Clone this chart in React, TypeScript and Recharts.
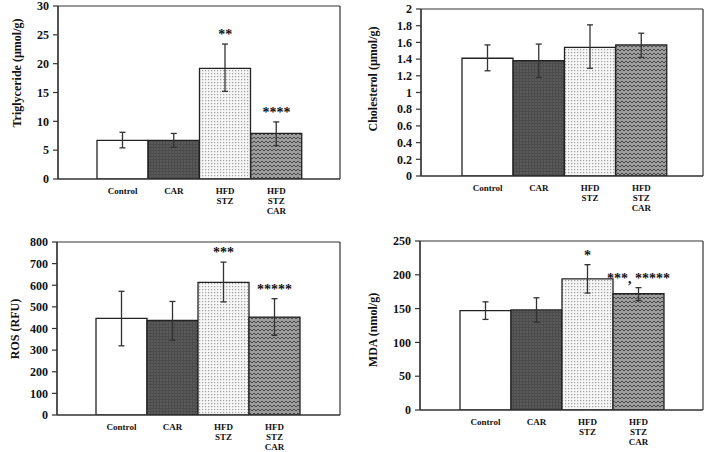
import React from 'react';
import {
  ComposedChart,
  Bar,
  Cell,
  ErrorBar,
  XAxis,
  YAxis,
  CartesianGrid,
  Line,
  LabelList,
  Label,
} from 'recharts';

const categories = ['Control', 'CAR', 'HFD\nSTZ', 'HFD\nSTZ\nCAR'];

const triglycerideMean = [6.7, 6.7, 19.2, 7.9];
const triglycerideLow = [5.4, 5.5, 15.2, 5.8];
const triglycerideHigh = [8.1, 7.9, 23.4, 9.9];
const triglycerideStars = ['', '', '**', '****'];
const triglycerideTicks = [0, 5, 10, 15, 20, 25, 30];

const cholesterolMean = [1.41, 1.38, 1.54, 1.57];
const cholesterolLow = [1.26, 1.18, 1.29, 1.42];
const cholesterolHigh = [1.57, 1.58, 1.81, 1.71];
const cholesterolStars = ['', '', '', ''];
const cholesterolTicks = [0, 0.2, 0.4, 0.6, 0.8, 1, 1.2, 1.4, 1.6, 1.8, 2];

const rosMean = [447, 437, 613, 453];
const rosLow = [320, 346, 523, 368];
const rosHigh = [572, 525, 707, 538];
const rosStars = ['', '', '***', '*****'];
const rosTicks = [0, 100, 200, 300, 400, 500, 600, 700, 800];

const mdaMean = [147, 148, 194, 172];
const mdaLow = [134, 130, 173, 162];
const mdaHigh = [160, 166, 215, 181];
const mdaStars = ['', '', '*', '***, *****'];
const mdaTicks = [0, 50, 100, 150, 200, 250];

const barFills = ['#ffffff', 'url(#patCar)', 'url(#patDots)', 'url(#patZig)'];

const FONT = '"Liberation Serif", "Times New Roman", serif';

function buildData(mean: number[], low: number[], high: number[], stars: string[]) {
  return categories.map((c, i) => ({
    name: c,
    value: mean[i],
    err: [mean[i] - low[i], high[i] - mean[i]],
    top: high[i],
    stars: stars[i],
  }));
}

const XTick = (props: any) => {
  const { x, y, payload } = props;
  const lines = String(payload.value).split('\n');
  return (
    <text
      x={x}
      y={y + 15}
      textAnchor="middle"
      fontFamily={FONT}
      fontWeight="bold"
      fontSize={9}
      fill="#111"
    >
      {lines.map((l, i) => (
        <tspan key={i} x={x} dy={i === 0 ? 0 : 10}>
          {l}
        </tspan>
      ))}
    </text>
  );
};

const StarLabel = (props: any) => {
  const { x, y, value } = props;
  if (!value) return null;
  return (
    <text
      x={x}
      y={y - 5}
      textAnchor="middle"
      fontFamily={FONT}
      fontWeight="bold"
      fontSize={14}
      fill="#111"
    >
      {value}
    </text>
  );
};

type PanelProps = {
  left: number;
  top: number;
  width: number;
  height: number;
  marginTop: number;
  marginRight: number;
  yWidth: number;
  xHeight: number;
  padL: number;
  padR: number;
  labelX: number;
  labelY: number;
  yLabel: string;
  data: any[];
  ticks: number[];
};

function Panel(p: PanelProps) {
  const domainMax = p.ticks[p.ticks.length - 1];
  return (
    <div style={{ position: 'absolute', left: p.left, top: p.top, width: p.width, height: p.height }}>
      <ComposedChart
        width={p.width}
        height={p.height}
        data={p.data}
        margin={{ top: p.marginTop, right: p.marginRight, left: 0, bottom: 0 }}
        barCategoryGap={0}
        barGap={0}
      >
        <CartesianGrid
          stroke="#333"
          strokeWidth={1.2}
          horizontalCoordinatesGenerator={({ offset }: any) => [offset.top, offset.top + offset.height]}
          verticalCoordinatesGenerator={({ offset }: any) => [offset.left, offset.left + offset.width]}
        />
        <XAxis
          dataKey="name"
          interval={0}
          height={p.xHeight}
          padding={{ left: p.padL, right: p.padR }}
          tickLine={false}
          tickSize={0}
          tickMargin={0}
          axisLine={{ stroke: '#333', strokeWidth: 1.2 }}
          tick={<XTick />}
        />
        <YAxis
          type="number"
          domain={[0, domainMax]}
          ticks={p.ticks}
          interval={0}
          allowDataOverflow
          width={p.yWidth}
          tickSize={5}
          tickMargin={4}
          axisLine={{ stroke: '#333', strokeWidth: 1.2 }}
          tickLine={{ stroke: '#333', strokeWidth: 1.2 }}
          tick={{ fontFamily: FONT, fontWeight: 'bold', fontSize: 12, fill: '#111' }}
        >
          <Label
            content={() => (
              <text
                x={p.labelX}
                y={p.labelY}
                transform={`rotate(-90 ${p.labelX} ${p.labelY})`}
                textAnchor="middle"
                dominantBaseline="central"
                fontFamily={FONT}
                fontWeight="bold"
                fontSize={12}
                fill="#111"
              >
                {p.yLabel}
              </text>
            )}
          />
        </YAxis>
        <Bar dataKey="value" isAnimationActive={false} stroke="#222" strokeWidth={1.3}>
          {p.data.map((_, i) => (
            <Cell key={i} fill={barFills[i]} stroke="#222" strokeWidth={1.3} />
          ))}
          <ErrorBar dataKey="err" direction="y" width={3} stroke="#333" strokeWidth={1.3} />
        </Bar>
        <Line
          dataKey="top"
          stroke="none"
          dot={false}
          activeDot={false}
          isAnimationActive={false}
          legendType="none"
        >
          <LabelList dataKey="stars" content={<StarLabel />} />
        </Line>
      </ComposedChart>
    </div>
  );
}

export default function App() {
  return (
    <div style={{ position: 'absolute', left: 0, top: 0, width: 709, height: 452, background: '#fff', overflow: 'hidden' }}>
      <svg width={0} height={0} style={{ position: 'absolute' }}>
        <defs>
          <pattern id="patCar" width={3} height={3} patternUnits="userSpaceOnUse">
            <rect width={3} height={3} fill="#5a5a5a" />
            <path d="M0 0.5 H3 M0.5 0 V3" stroke="#4c4c4c" strokeWidth={1} />
          </pattern>
          <pattern id="patDots" width={3} height={3} patternUnits="userSpaceOnUse">
            <rect width={3} height={3} fill="#f6f6f6" />
            <rect x={1} y={1} width={1.2} height={1.2} fill="#a0a0a0" />
          </pattern>
          <pattern id="patZig" width={4} height={4} patternUnits="userSpaceOnUse">
            <rect width={4} height={4} fill="#9c9c9c" />
            <path d="M0 3 L2 1 L4 3" stroke="#4a4a4a" strokeWidth={1} fill="none" />
          </pattern>
        </defs>
      </svg>
      <Panel
        left={0}
        top={0}
        width={360}
        height={228}
        marginTop={6}
        marginRight={20}
        yWidth={58}
        xHeight={49}
        padL={39}
        padR={38}
        labelX={17}
        labelY={73}
        yLabel="Triglyceride (µmol/g)"
        data={buildData(triglycerideMean, triglycerideLow, triglycerideHigh, triglycerideStars)}
        ticks={triglycerideTicks}
      />
      <Panel
        left={360}
        top={0}
        width={349}
        height={228}
        marginTop={9}
        marginRight={6}
        yWidth={61}
        xHeight={52}
        padL={41}
        padR={36}
        labelX={13}
        labelY={79}
        yLabel="Cholesterol (µmol/g)"
        data={buildData(cholesterolMean, cholesterolLow, cholesterolHigh, cholesterolStars)}
        ticks={cholesterolTicks}
      />
      <Panel
        left={0}
        top={228}
        width={360}
        height={224}
        marginTop={14}
        marginRight={20}
        yWidth={57}
        xHeight={37}
        padL={39}
        padR={40}
        labelX={15}
        labelY={101}
        yLabel="ROS (RFU)"
        data={buildData(rosMean, rosLow, rosHigh, rosStars)}
        ticks={rosTicks}
      />
      <Panel
        left={360}
        top={228}
        width={349}
        height={224}
        marginTop={13}
        marginRight={6}
        yWidth={60}
        xHeight={42}
        padL={40}
        padR={39}
        labelX={13}
        labelY={102}
        yLabel="MDA (nmol/g)"
        data={buildData(mdaMean, mdaLow, mdaHigh, mdaStars)}
        ticks={mdaTicks}
      />
    </div>
  );
}
